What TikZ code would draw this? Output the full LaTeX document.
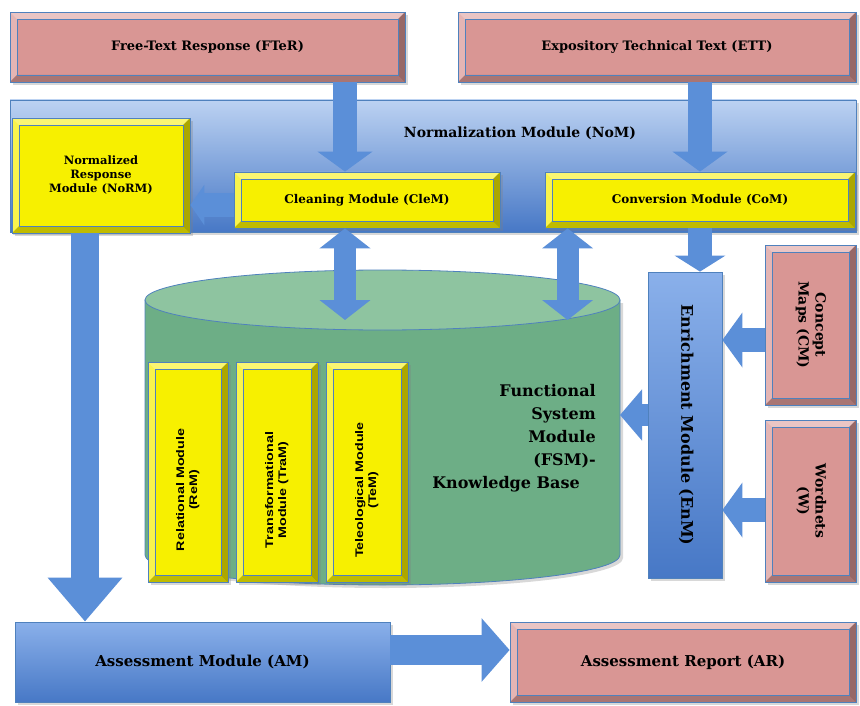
\documentclass[tikz,border=0pt]{standalone}
\usepackage{fontspec}
\setmainfont{DejaVu Serif}
\newfontfamily\narrowfont{Liberation Sans}
\usepackage{graphicx}
\usetikzlibrary{arrows.meta,shadows}
\definecolor{edgeblue}{HTML}{4F81BD}
\definecolor{flowblue}{HTML}{5B8FD8}
\definecolor{pinkbox}{HTML}{D99694}
\definecolor{yellowbox}{HTML}{F7F000}
\definecolor{kbside}{HTML}{6DAE86}
\definecolor{kbtopc}{HTML}{8EC4A0}
\definecolor{bluelight}{HTML}{BCD2F2}
\definecolor{bluemid}{HTML}{8AB0EA}
\definecolor{bluedark}{HTML}{4778C6}
\def\pb{path picture bounding box}
\def\bv{7pt}
\tikzstyle{bevel} = [path picture={
  \fill[white,opacity=.45] (\pb.north west) -- (\pb.north east) -- ([shift={(-\bv,-\bv)}]\pb.north east) -- ([shift={(\bv,-\bv)}]\pb.north west) -- cycle;
  \fill[white,opacity=.3] (\pb.north west) -- (\pb.south west) -- ([shift={(\bv,\bv)}]\pb.south west) -- ([shift={(\bv,-\bv)}]\pb.north west) -- cycle;
  \fill[black,opacity=.3] (\pb.south east) -- (\pb.north east) -- ([shift={(-\bv,-\bv)}]\pb.north east) -- ([shift={(-\bv,\bv)}]\pb.south east) -- cycle;
  \fill[black,opacity=.22] (\pb.south east) -- (\pb.south west) -- ([shift={(\bv,\bv)}]\pb.south west) -- ([shift={(-\bv,\bv)}]\pb.south east) -- cycle;
  \draw[edgeblue,thick] ([shift={(\bv,-\bv)}]\pb.north west) rectangle ([shift={(-\bv,\bv)}]\pb.south east);}]
\tikzstyle{shade} = [drop shadow={opacity=.3,shadow xshift=3pt,shadow yshift=-3pt}]
\tikzstyle{srcbox} = [draw=edgeblue,thick,fill=pinkbox,bevel,shade,inner sep=0,font=\bfseries\fontsize{13}{16}\selectfont]
\tikzstyle{modbox} = [draw=edgeblue,thick,fill=yellowbox,bevel,shade,inner sep=0,font=\bfseries\fontsize{12}{14}\selectfont]
\tikzstyle{layerbox} = [modbox,font=\narrowfont\bfseries\fontsize{11}{13}\selectfont,minimum width=82,minimum height=220]
\tikzstyle{bluebox} = [draw=edgeblue,thick,top color=bluemid,bottom color=bluedark,shade,inner sep=0,font=\bfseries\fontsize{15}{18}\selectfont]
\tikzstyle{flow} = [draw=flowblue,line width=24pt,-{Triangle[length=20pt,width=54pt]}]
\tikzstyle{flowboth} = [draw=flowblue,line width=22pt,{Triangle[length=20pt,width=50pt]}-{Triangle[length=20pt,width=50pt]}]
\newcommand{\vlabel}[2]{\rotatebox{#1}{\begin{tabular}{@{}c@{}}#2\end{tabular}}}
\newcommand{\layerlabel}[1]{\rotatebox{90}{\scalebox{1.3}[1]{\begin{tabular}{@{}c@{}}#1\end{tabular}}\hspace*{36pt}}}

\begin{document}
\begin{tikzpicture}[x=1pt,y=-1pt]
  \useasboundingbox[fill=white] (0,0) rectangle (860,706);
  % inputs
  \node[srcbox,minimum width=395,minimum height=70] (fter) at (207.5,47) {Free-Text Response (FTeR)};
  \node[srcbox,minimum width=398,minimum height=70] (ett) at (657,47) {Expository Technical Text (ETT)};
  % normalization
  \node[bluebox,top color=bluelight,minimum width=846,minimum height=132] (nom) at (433,166) {};
  \node[font=\bfseries\fontsize{14}{16}\selectfont] (nomtext) at (520,133) {Normalization Module (NoM)};
  \node[modbox,font=\bfseries\fontsize{11.5}{14}\selectfont,minimum width=178,minimum height=115,align=center] (norm) at (101,175.5) {Normalized\\Response\\Module (NoRM)};
  \node[modbox,minimum width=266,minimum height=56] (clem) at (367,200) {Cleaning Module (CleM)};
  \node[modbox,minimum width=310,minimum height=56] (com) at (700,200) {Conversion Module (CoM)};
  % knowledge base
  \filldraw[fill=kbside,draw=edgeblue,thick,shade] (145,300) -- (145,555) arc[start angle=180,end angle=0,x radius=237.5,y radius=30] -- (620,300) -- cycle;
  \filldraw[fill=kbtopc,draw=edgeblue,thick] (382.5,300) ellipse[x radius=237.5,y radius=30];
  \coordinate (kbtop) at (382.5,320);
  \coordinate (kbright) at (620,415);
  \node[layerbox,minimum width=80] (rem) at (188,472) {\layerlabel{Relational Module\\(ReM)}};
  \node[layerbox] (tram) at (277,472) {\layerlabel{Transformational\\Module (TraM)}};
  \node[layerbox] (tem) at (367,472) {\layerlabel{Teleological Module\\(TeM)}};
  \node[font=\bfseries\fontsize{16}{23}\selectfont,align=right] (fsm) at (514,438) {Functional\\System\\Module\\(FSM)-\\Knowledge Base\hspace*{16pt}};
  % enrichment
  \node[bluebox,font=\bfseries\fontsize{16}{18}\selectfont,minimum width=74,minimum height=306] (enm) at (685,425) {\vlabel{-90}{Enrichment Module (EnM)}};
  \node[srcbox,font=\bfseries\fontsize{14}{17}\selectfont,minimum width=91,minimum height=160] (cm) at (810.5,325) {\vlabel{-90}{Concept\\Maps (CM)}};
  \node[srcbox,font=\bfseries\fontsize{14}{17}\selectfont,minimum width=91,minimum height=162] (w) at (810.5,501) {\vlabel{-90}{Wordnets\\(W)}};
  % assessment
  \node[bluebox,minimum width=375,minimum height=80] (am) at (202.5,662) {Assessment Module (AM)};
  \node[srcbox,font=\bfseries\fontsize{15}{18}\selectfont,minimum width=346,minimum height=80] (ar) at (683,662) {Assessment Report (AR)};
  % connectors
  \draw[flow] ([xshift=-22pt]clem.north |- fter.south) -- ([xshift=-22pt]clem.north);
  \draw[flow] (com.north |- ett.south) -- (com.north);
  \draw[flow,-{Triangle[length=14pt,width=40pt]}] ([yshift=-5pt]clem.west) -- ([yshift=-5pt]clem.west -| norm.east);
  \draw[flow,line width=28pt,-{Triangle[length=44pt,width=72pt]}] ([xshift=-16pt]norm.south) -- ([xshift=-16pt]norm.south |- am.north);
  \draw[flowboth] ([xshift=-22pt]clem.south) -- ([xshift=-22pt]clem.south |- kbtop);
  \draw[flowboth] ([xshift=23pt]com.south west) -- ([xshift=23pt]com.south west |- kbtop);
  \draw[flow,-{Triangle[length=16pt,width=50pt]}] (com.south) -- (com.south |- enm.north);
  \draw[flow,line width=22pt,-{Triangle[length=22pt,width=50pt]}] (enm.west |- kbright) -- (kbright);
  \draw[flow] ([yshift=-15pt]cm.west) -- ([yshift=-15pt]cm.west -| enm.east);
  \draw[flow] ([yshift=-9pt]w.west) -- ([yshift=-9pt]w.west -| enm.east);
  \draw[flow,line width=30pt,-{Triangle[length=28pt,width=62pt]}] ([yshift=12pt]am.east) -- ([yshift=12pt]am.east -| ar.west);
\end{tikzpicture}
\end{document}
